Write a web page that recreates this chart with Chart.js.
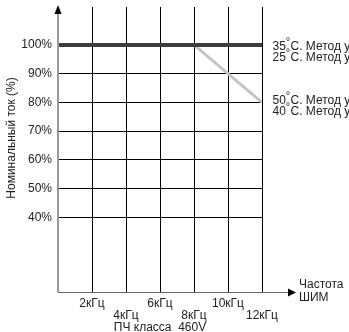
<!DOCTYPE html>
<html>
<head>
<meta charset="utf-8">
<script src="https://cdn.jsdelivr.net/npm/chart.js@4/dist/chart.umd.min.js"></script>
<style>
  html, body { margin: 0; padding: 0; background: #fff; }
  #wrap { width: 349px; height: 332px; position: relative; }
</style>
</head>
<body>
<div id="wrap"><canvas id="deratingChart"></canvas></div>
<script>
// data
const freqTicks = [2, 4, 6, 8, 10, 12];            // kHz
const freqLabels = ['2кГц', '4кГц', '6кГц', '8кГц', '10кГц', '12кГц'];
const currentTicks = [40, 50, 60, 70, 80, 90, 100]; // %

const darkFreq = [0, 12];
const darkCurrent = [100, 100];
const greyFreq = [0, 8, 12];
const greyCurrent = [100, 100, 80];

const seriesLabels = [
    ['35', 'C. Метод управления'],
    ['25', 'C. Метод управления'],
    ['50', 'C. Метод управления'],
    ['40', 'C. Метод управления']
];
const seriesLabelY = [46.5, 57.5, 100.5, 111.5];

const FONT = '"Liberation Sans", Arial, sans-serif';
const TEXT = '#222';

function toPoints(xs, ys) {
    return xs.map((x, i) => ({ x: x, y: ys[i] }));
}

// axes with arrows, rotated y title and right-hand labels
const decorPlugin = {
    id: 'decor',
    afterDraw(chart) {
        const ctx = chart.ctx;
        const area = chart.chartArea;
        ctx.save();

        // y axis
        ctx.strokeStyle = '#999';
        ctx.lineWidth = 2;
        ctx.beginPath();
        ctx.moveTo(area.left, area.bottom);
        ctx.lineTo(area.left, 12);
        ctx.stroke();
        ctx.fillStyle = '#000';
        ctx.beginPath();
        ctx.moveTo(area.left, 5);
        ctx.lineTo(area.left - 3.5, 14);
        ctx.lineTo(area.left + 3.5, 14);
        ctx.closePath();
        ctx.fill();

        // x axis
        ctx.strokeStyle = '#666';
        ctx.lineWidth = 1;
        ctx.beginPath();
        ctx.moveTo(area.left, area.bottom + 0.5);
        ctx.lineTo(290, area.bottom + 0.5);
        ctx.stroke();
        ctx.fillStyle = '#000';
        ctx.beginPath();
        ctx.moveTo(296, area.bottom + 0.5);
        ctx.lineTo(288, area.bottom - 3.5);
        ctx.lineTo(288, area.bottom + 4.5);
        ctx.closePath();
        ctx.fill();

        ctx.fillStyle = TEXT;
        ctx.font = '12px ' + FONT;
        ctx.textBaseline = 'middle';
        ctx.textAlign = 'left';
        ctx.fillText('Частота', 299, 285);
        ctx.fillText('ШИМ', 299, 298);

        // y title
        ctx.save();
        ctx.translate(12, 138);
        ctx.rotate(-Math.PI / 2);
        ctx.textAlign = 'center';
        ctx.fillText('Номинальный ток (%)', 0, 0);
        ctx.restore();

        // series labels on the right
        seriesLabels.forEach((parts, i) => {
            const y = seriesLabelY[i];
            ctx.font = '12px ' + FONT;
            ctx.textAlign = 'left';
            ctx.fillText(parts[0], 272.5, y);
            ctx.font = '11px ' + FONT;
            ctx.textAlign = 'center';
            ctx.fillText('°', 288, y - 5);
            ctx.font = '12px ' + FONT;
            ctx.textAlign = 'left';
            ctx.fillText(parts[1], 290.5, y);
        });
        ctx.restore();
    }
};

const ctx = document.getElementById('deratingChart').getContext('2d');
new Chart(ctx, {
    type: 'line',
    data: {
        datasets: [
            {
                label: '50/40 °C',
                data: toPoints(greyFreq, greyCurrent),
                borderColor: '#c4c4c4',
                borderWidth: 3,
                pointRadius: 0,
                tension: 0,
                order: 2
            },
            {
                label: '35/25 °C',
                data: toPoints(darkFreq, darkCurrent),
                borderColor: '#3c3c3c',
                borderWidth: 4,
                pointRadius: 0,
                tension: 0,
                order: 1
            }
        ]
    },
    options: {
        responsive: true,
        maintainAspectRatio: false,
        animation: false,
        layout: { padding: { left: 0, right: 87, top: 7, bottom: 0 } },
        plugins: {
            legend: { display: false },
            tooltip: { enabled: false }
        },
        scales: {
            x: {
                type: 'linear',
                min: 0,
                max: 12,
                afterBuildTicks: (axis) => { axis.ticks = freqTicks.map(v => ({ value: v })); },
                afterFit: (axis) => {
                    axis.height = 40;
                    axis.paddingLeft = 0;
                    axis.paddingRight = 0;
                },
                grid: { color: '#000', lineWidth: 1, drawTicks: false },
                border: { display: false },
                ticks: {
                    autoSkip: false,
                    maxRotation: 0,
                    padding: 5.5,
                    color: TEXT,
                    font: { family: FONT, size: 12, lineHeight: 1 },
                    callback: (v) => {
                        const i = freqTicks.indexOf(v);
                        return i % 2 === 0 ? freqLabels[i] : ['', freqLabels[i]];
                    }
                },
                title: {
                    display: true,
                    text: 'ПЧ класса  460V',
                    color: TEXT,
                    font: { family: FONT, size: 12, lineHeight: 1 },
                    padding: { top: 0, bottom: -2 }
                }
            },
            y: {
                type: 'linear',
                min: 14,
                max: 113.2,
                afterBuildTicks: (axis) => { axis.ticks = currentTicks.map(v => ({ value: v })); },
                afterFit: (axis) => {
                    axis.width = 58;
                    axis.paddingTop = 0;
                    axis.paddingBottom = 0;
                },
                grid: { color: '#000', lineWidth: 1, drawTicks: false },
                border: { display: false },
                ticks: {
                    padding: 6,
                    color: TEXT,
                    font: { family: FONT, size: 12 },
                    callback: (v) => v + '%'
                }
            }
        }
    },
    plugins: [decorPlugin]
});
</script>
</body>
</html>
